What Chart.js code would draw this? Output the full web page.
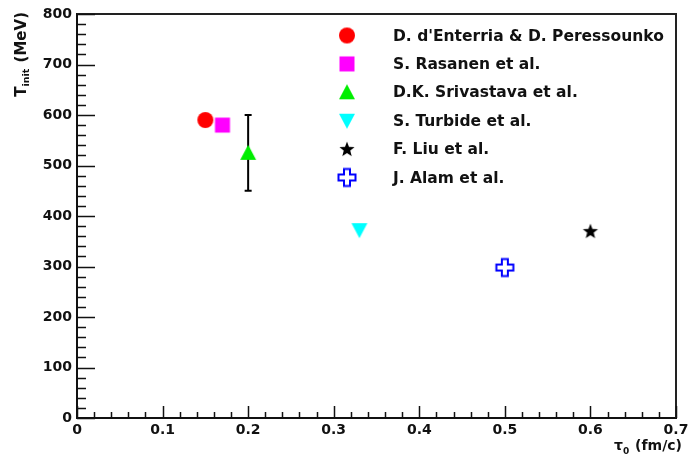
<!DOCTYPE html>
<html>
<head>
<meta charset="utf-8">
<script src="https://cdn.jsdelivr.net/npm/chart.js@4/dist/chart.umd.min.js"></script>
<style>
  html, body { margin: 0; padding: 0; background: #fff; }
  #wrap { width: 694px; height: 461px; }
</style>
</head>
<body>
<div id="wrap"><canvas id="c" width="694" height="461"></canvas></div>
<script>
// Initial temperature vs. thermalisation time from several model calculations
const seriesNames = [
  "D. d'Enterria & D. Peressounko",
  "S. Rasanen et al.",
  "D.K. Srivastava et al.",
  "S. Turbide et al.",
  "F. Liu et al.",
  "J. Alam et al."
];
const tau0 = [0.15, 0.17, 0.20, 0.33, 0.60, 0.50];      // fm/c
const tInit = [590, 580, 525, 372, 370, 298];           // MeV
const errLow = [null, null, 450, null, null, null];
const errHigh = [null, null, 600, null, null, null];
const markerColors = ['#ff0000', '#ff00ff', '#00ee00', '#00ffff', '#000000', '#0000ff'];
const markerShapes = ['circle', 'square', 'triangleUp', 'triangleDown', 'star', 'openCross'];
const xTickValues = [0, 0.1, 0.2, 0.3, 0.4, 0.5, 0.6, 0.7];
const yTickValues = [0, 100, 200, 300, 400, 500, 600, 700, 800];

const FONT = '"DejaVu Sans", Verdana, sans-serif';
const INK = '#111';

// Build a small canvas for each marker style
function makeMarker(shape, color) {
  const S = 22, c = document.createElement('canvas');
  c.width = S; c.height = S;
  const g = c.getContext('2d');
  const m = S / 2;
  g.fillStyle = color; g.strokeStyle = color;
  g.beginPath();
  if (shape === 'circle') {
    g.arc(m, m, 8, 0, Math.PI * 2); g.fill();
  } else if (shape === 'square') {
    g.fillRect(m - 7.5, m - 7.5, 15, 15);
  } else if (shape === 'triangleUp') {
    g.moveTo(m, m - 8); g.lineTo(m + 8, m + 7); g.lineTo(m - 8, m + 7); g.closePath(); g.fill();
  } else if (shape === 'triangleDown') {
    g.moveTo(m, m + 8); g.lineTo(m + 8, m - 7); g.lineTo(m - 8, m - 7); g.closePath(); g.fill();
  } else if (shape === 'star') {
    const R = 8, r = 3.4;
    for (let i = 0; i < 10; i++) {
      const a = -Math.PI / 2 + i * Math.PI / 5;
      const rad = i % 2 ? r : R;
      const px = m + rad * Math.cos(a), py = m + 0.5 + rad * Math.sin(a);
      i ? g.lineTo(px, py) : g.moveTo(px, py);
    }
    g.closePath(); g.fill();
  } else if (shape === 'openCross') {
    const a = 8.5, b = 3;
    const pts = [[-b,-a],[b,-a],[b,-b],[a,-b],[a,b],[b,b],[b,a],[-b,a],[-b,b],[-a,b],[-a,-b],[-b,-b]];
    pts.forEach((p, i) => i ? g.lineTo(m + p[0], m + p[1]) : g.moveTo(m + p[0], m + p[1]));
    g.closePath(); g.lineWidth = 2; g.stroke();
  }
  return c;
}
const markers = markerShapes.map((s, i) => makeMarker(s, markerColors[i]));

const datasets = seriesNames.map((name, i) => ({
  label: name,
  data: [{ x: tau0[i], y: tInit[i] }],
  pointStyle: markers[i],
  pointRadius: 8,
  pointHoverRadius: 8,
  showLine: false
}));

// Frame, inward ticks, error bars, legend and axis titles
const decorations = {
  id: 'decorations',
  beforeDatasetsDraw(chart) {
    const ctx = chart.ctx, x = chart.scales.x, y = chart.scales.y;
    ctx.save();
    ctx.strokeStyle = '#000'; ctx.lineWidth = 2;
    for (let i = 0; i < tau0.length; i++) {
      if (errLow[i] == null) continue;
      const px = x.getPixelForValue(tau0[i]);
      const y1 = y.getPixelForValue(errLow[i]), y2 = y.getPixelForValue(errHigh[i]);
      ctx.beginPath();
      ctx.moveTo(px, y1); ctx.lineTo(px, y2);
      ctx.moveTo(px - 3.5, y1); ctx.lineTo(px + 3.5, y1);
      ctx.moveTo(px - 3.5, y2); ctx.lineTo(px + 3.5, y2);
      ctx.stroke();
    }
    ctx.restore();
  },
  afterDraw(chart) {
    const ctx = chart.ctx, a = chart.chartArea, x = chart.scales.x, y = chart.scales.y;
    ctx.save();
    // top and right edges of the frame
    ctx.strokeStyle = '#222'; ctx.lineWidth = 2;
    ctx.beginPath();
    ctx.moveTo(a.left, a.top); ctx.lineTo(a.right, a.top); ctx.lineTo(a.right, a.bottom);
    ctx.stroke();
    // inward tick marks
    ctx.lineWidth = 1.5; ctx.strokeStyle = '#111';
    ctx.beginPath();
    for (let v = 0; v <= 800.001; v += 20) {
      const py = Math.round(y.getPixelForValue(v)) + 0.5;
      const len = (Math.round(v) % 100 === 0) ? 18 : 9;
      ctx.moveTo(a.left, py); ctx.lineTo(a.left + len, py);
    }
    for (let k = 0; k <= 35; k++) {
      const px = Math.round(x.getPixelForValue(k * 0.02)) + 0.5;
      const len = (k % 5 === 0) ? 12 : 6;
      ctx.moveTo(px, a.bottom); ctx.lineTo(px, a.bottom - len);
    }
    ctx.stroke();

    // legend
    ctx.fillStyle = INK;
    ctx.font = 'bold 15.5px ' + FONT;
    ctx.textBaseline = 'middle'; ctx.textAlign = 'left';
    seriesNames.forEach((name, i) => {
      const cy = 35.5 + i * 28.4;
      const mk = markers[i];
      ctx.drawImage(mk, 347 - mk.width / 2, cy - mk.height / 2);
      ctx.fillText(name, 393, cy + 1);
    });

    // y axis title: T_init (MeV)
    ctx.save();
    ctx.translate(21, 12);
    ctx.rotate(-Math.PI / 2);
    ctx.textBaseline = 'alphabetic'; ctx.textAlign = 'left';
    const big = 'bold 15px ' + FONT, small = 'bold 9.5px ' + FONT;
    ctx.font = big; const wT = ctx.measureText('T').width;
    ctx.font = small; const wI = ctx.measureText('init').width;
    ctx.font = big; const wM = ctx.measureText(' (MeV)').width;
    let sx = -(wT + wI + wM + 1);
    ctx.font = big; ctx.fillText('T', sx, 5); sx += wT;
    ctx.font = small; ctx.fillText('init', sx, 8); sx += wI + 1;
    ctx.font = big; ctx.fillText(' (MeV)', sx, 5);
    ctx.restore();

    // x axis title: tau_0 (fm/c)
    ctx.textBaseline = 'alphabetic'; ctx.textAlign = 'left';
    const bigX = 'bold 14px ' + FONT, smallX = 'bold 9px ' + FONT;
    ctx.font = bigX; const wTau = ctx.measureText('\u03c4').width;
    ctx.font = smallX; const w0 = ctx.measureText('0').width;
    ctx.font = bigX; const wU = ctx.measureText(' (fm/c)').width;
    let tx = 682 - (wTau + w0 + wU + 1);
    ctx.font = bigX; ctx.fillText('\u03c4', tx, 450); tx += wTau;
    ctx.font = smallX; ctx.fillText('0', tx, 454); tx += w0 + 1;
    ctx.font = bigX; ctx.fillText(' (fm/c)', tx, 450);
    ctx.restore();
  }
};

new Chart(document.getElementById('c'), {
  type: 'scatter',
  data: { datasets },
  options: {
    responsive: false,
    animation: false,
    devicePixelRatio: 1,
    layout: { padding: { left: 0, top: 14, right: 18, bottom: 0 } },
    plugins: { legend: { display: false }, tooltip: { enabled: false } },
    scales: {
      x: {
        type: 'linear', min: 0, max: 0.7,
        afterBuildTicks: s => { s.ticks = xTickValues.map(v => ({ value: v })); },
        afterFit: s => { s.height = 43; },
        grid: { display: true, drawOnChartArea: false, drawTicks: false },
        border: { display: true, color: '#111', width: 2 },
        ticks: {
          autoSkip: false, maxRotation: 0, padding: 4, color: INK,
          font: { family: FONT, size: 14, weight: 'bold' },
          callback: v => String(Math.round(v * 10) / 10)
        }
      },
      y: {
        type: 'linear', min: 0, max: 800,
        afterBuildTicks: s => { s.ticks = yTickValues.map(v => ({ value: v })); },
        afterFit: s => { s.width = 77; },
        grid: { display: true, drawOnChartArea: false, drawTicks: false },
        border: { display: true, color: '#111', width: 2 },
        ticks: {
          autoSkip: false, padding: 5, color: INK,
          font: { family: FONT, size: 14, weight: 'bold' },
          callback: v => String(v)
        }
      }
    }
  },
  plugins: [decorations]
});
</script>
</body>
</html>
